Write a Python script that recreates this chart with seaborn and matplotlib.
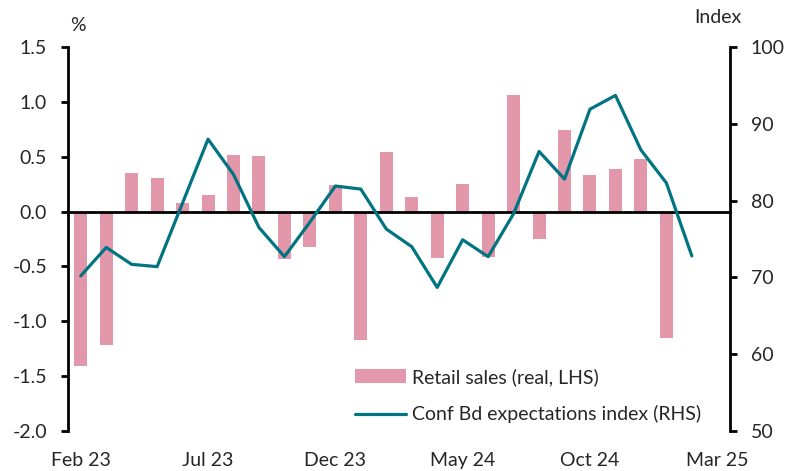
import matplotlib
matplotlib.use("Agg")
import matplotlib.pyplot as plt
import seaborn as sns
import pandas as pd
import numpy as np

# Monthly labels, Feb 23 to Mar 25
months = ['Feb 23', 'Mar 23', 'Apr 23', 'May 23', 'Jun 23', 'Jul 23', 'Aug 23', 'Sep 23',
          'Oct 23', 'Nov 23', 'Dec 23', 'Jan 24', 'Feb 24', 'Mar 24', 'Apr 24', 'May 24',
          'Jun 24', 'Jul 24', 'Aug 24', 'Sep 24', 'Oct 24', 'Nov 24', 'Dec 24', 'Jan 25',
          'Feb 25', 'Mar 25']

# Retail sales, real, % m/m (LHS)
retail_sales = [-1.41, -1.22, 0.35, 0.31, 0.08, 0.15, 0.52, 0.51, -0.43, -0.32,
                0.24, -1.17, 0.54, 0.13, -0.42, 0.25, -0.41, 1.06, -0.25, 0.74,
                0.33, 0.39, 0.48, -1.15, np.nan, np.nan]

# Conference Board expectations index (RHS)
conf_bd = [70.2, 73.9, 71.7, 71.4, 79.7, 88.0, 83.4, 76.5, 72.7, 77.2,
           81.9, 81.5, 76.3, 74.0, 68.7, 74.9, 72.7, 78.3, 86.4, 82.8,
           91.9, 93.7, 86.6, 82.3, 72.8, np.nan]

tick_labels = ['Feb 23', 'Jul 23', 'Dec 23', 'May 24', 'Oct 24', 'Mar 25']

df = pd.DataFrame({'Month': months, 'Retail': retail_sales, 'ConfBd': conf_bd})
df['pos'] = np.arange(len(df))

bar_color = '#e397aa'
line_color = '#007480'

sns.set_style('white')
plt.rcParams['font.family'] = ['Lato', 'DejaVu Sans']
plt.rcParams['font.size'] = 14

fig = plt.figure(figsize=(8.01, 4.71), dpi=100)
ax = fig.add_axes([0.0849, 0.0849, 0.8265, 0.8153])

sns.barplot(data=df, x='Month', y='Retail', order=months, color=bar_color,
            saturation=1, width=0.51, linewidth=0, errorbar=None, ax=ax,
            label='Retail sales (real, LHS)')
if ax.get_legend() is not None:
    ax.get_legend().remove()

ax.set_xlim(-0.5, len(months) - 0.5)
ax.set_ylim(-2.0, 1.5)
ax.set_yticks(np.arange(-2.0, 1.51, 0.5))
ax.set_yticklabels([f'{v:.1f}' for v in np.arange(-2.0, 1.51, 0.5)])
ax.set_xlabel('')
ax.set_ylabel('')

# x axis sits on zero, ticks between categories, labels at the bottom
ax.spines['bottom'].set_position(('data', 0))
ax.spines['top'].set_visible(False)
ax.spines['right'].set_visible(False)
for s in ['bottom', 'left']:
    ax.spines[s].set_linewidth(2.0)
    ax.spines[s].set_color('black')
ax.set_xticks(np.arange(4.5, len(months) - 0.5, 5))
ax.set_xticklabels([])
ax.tick_params(axis='x', direction='out', length=4, width=2, color='black')
ax.tick_params(axis='y', direction='out', length=5, width=2, color='black', pad=10)

tr = ax.get_xaxis_transform()
for lab in tick_labels:
    ax.text(months.index(lab), -0.078, lab, transform=tr, ha='center', va='center')

ax2 = ax.twinx()
sns.lineplot(data=df, x='pos', y='ConfBd', color=line_color, linewidth=2.3, ax=ax2,
             label='Conf Bd expectations index (RHS)', legend=False)
ax2.set_ylim(50, 100)
ax2.set_yticks(range(50, 101, 10))
ax2.set_xlabel('')
ax2.set_ylabel('')
for s in ['top', 'bottom', 'left']:
    ax2.spines[s].set_visible(False)
ax2.spines['right'].set_linewidth(2.0)
ax2.spines['right'].set_color('black')
ax2.tick_params(axis='y', direction='out', length=5, width=2, color='black', pad=10)
ax2.set_xlim(-0.5, len(months) - 0.5)

ax.text(0.003, 1.057, '%', transform=ax.transAxes, ha='left', va='center')
ax.text(0.982, 1.078, 'Index', transform=ax.transAxes, ha='center', va='center')

h1, l1 = ax.get_legend_handles_labels()
h2, l2 = ax2.get_legend_handles_labels()
leg = ax2.legend(h1 + h2, l1 + l2, loc='lower left', bbox_to_anchor=(0.434, 0.02),
                 frameon=False, handlelength=2.6, handletextpad=0.3, labelspacing=1.0,
                 borderpad=0, borderaxespad=0)

fig.savefig('out.png', dpi=100)
